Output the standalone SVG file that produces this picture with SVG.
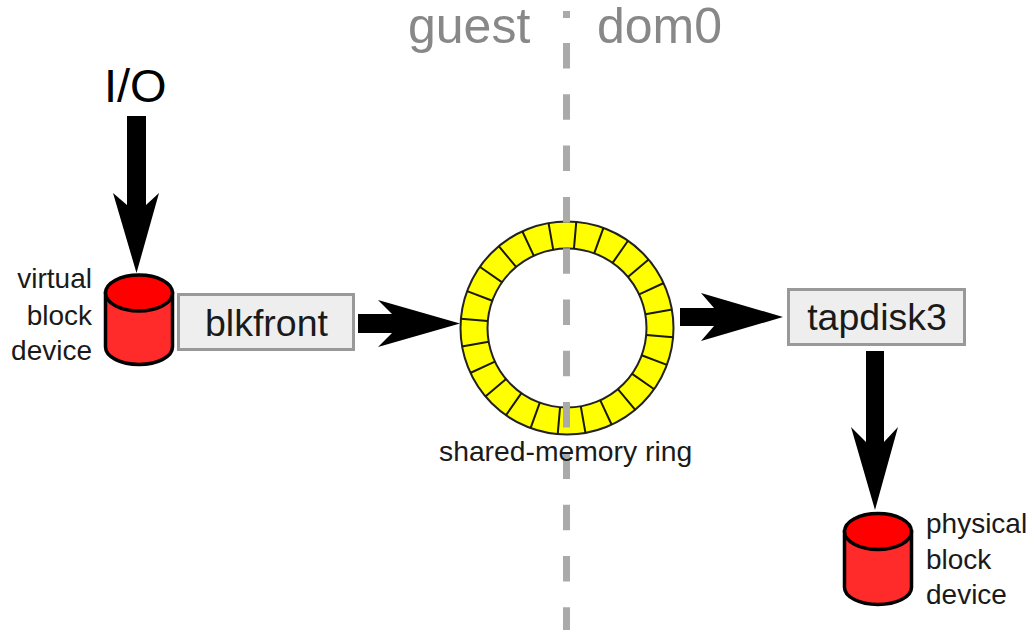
<svg xmlns="http://www.w3.org/2000/svg" width="1034" height="634" viewBox="0 0 1034 634">
<style>
text{font-family:"Liberation Sans",Arial,sans-serif;fill:#1a1a1a}
.head{font-size:50px;fill:#888}
.box{font-size:37.5px;text-anchor:middle}
.lbl{font-size:28px}
.end{text-anchor:end}
.boxr{fill:#eee;stroke:#999;stroke-width:3}
.body{fill:#ff2a2a;stroke:#000;stroke-width:3.5}
.top{fill:#f00;stroke:#000;stroke-width:3.5}
.arrow{fill:#000}
.seg{stroke:#1a1a00;stroke-width:2}
.dash{stroke:#aaa;stroke-width:7;fill:none}
</style>
<rect width="1034" height="634" fill="#fff"/>
<g id="ring">
<path d="M460.5 328a106.500 106.500 0 1 0 213 0a106.500 106.500 0 1 0 -213 0ZM487.500 328a79.500 79.500 0 1 1 159 0a79.500 79.500 0 1 1 -159 0Z" fill="#ff0" fill-rule="evenodd" stroke="#222" stroke-width="2"/>
<g class="seg">
<path d="M573.93 248.80L576.28 221.90M594.20 253.30L603.43 227.93M612.60 262.90L628.01 240.77M627.90 276.90L648.59 259.53M639.15 294.40L663.75 283.00M645.40 314.20L672.10 309.50M646.30 335.00L673.08 337.30M641.65 355.20L666.90 364.90M631.80 373.60L653.90 389.00M617.90 389.20L635.25 409.80M600.30 400.45L611.80 425.00M580.80 406.30L585.50 433.10M560.07 407.20L557.72 434.10M539.80 402.70L530.57 428.07M521.40 393.10L505.99 415.23M506.10 379.10L485.41 396.47M494.85 361.60L470.25 373.00M488.60 341.80L461.90 346.50M487.70 321.00L460.92 318.70M492.35 300.80L467.10 291.10M502.20 282.40L480.10 267.00M516.10 266.80L498.75 246.20M533.70 255.55L522.20 231.00M553.20 249.70L548.50 222.90"/>
</g>
</g>
<g id="divider">
<path class="dash" d="M566.5 11V18"/>
<path class="dash" d="M566.5 43V630" stroke-dasharray="25.500 25.800"/>
<text class="head" x="408" y="43">guest</text>
<text class="head" x="597" y="43">dom0</text>
</g>
<g id="connectors">
<path class="arrow" d="M127 116H146V205L159 193L136.500 273L113 193L127 205Z"/>
<path class="arrow" d="M358 314H392L378 300L460 323.500L378 347L392 333H358Z"/>
<path class="arrow" d="M680 308H714L701 293L783 317L701 341L714 326H680Z"/>
<path class="arrow" d="M866 351H884V442L898 427L875 510L851 427L866 442Z"/>
</g>
<g id="io"><text x="104" y="102" style="font-size:47px;fill:#000">I/O</text></g>
<g id="virtual-block-device">
<path class="body" d="M105.500 293V347A33.500 17.500 0 0 0 172.500 347V293Z"/>
<ellipse class="top" cx="139" cy="293" rx="33.500" ry="18"/>
<text class="lbl end" x="92" y="288">virtual</text>
<text class="lbl end" x="92" y="325">block</text>
<text class="lbl end" x="92" y="360">device</text>
</g>
<g id="blkfront">
<rect class="boxr" x="178.500" y="294.500" width="175" height="55"/>
<text class="box" x="266.500" y="336">blkfront</text>
</g>
<g id="shared-memory-ring-label"><text class="lbl" x="439" y="461" style="font-size:28.300px">shared-memory ring</text></g>
<g id="tapdisk3">
<rect class="boxr" x="788.500" y="289.500" width="176" height="55"/>
<text class="box" x="877" y="330">tapdisk3</text>
</g>
<g id="physical-block-device">
<path class="body" d="M844.500 531.500V587.500A33.500 17 0 0 0 911.500 587.500V531.500Z"/>
<ellipse class="top" cx="878" cy="531.500" rx="33.500" ry="18"/>
<text class="lbl" x="926" y="533">physical</text>
<text class="lbl" x="926" y="569">block</text>
<text class="lbl" x="926" y="604">device</text>
</g>
</svg>
